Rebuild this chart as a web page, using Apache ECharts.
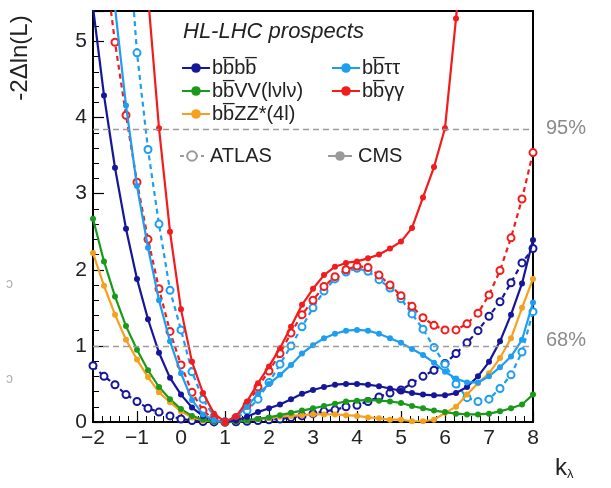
<!DOCTYPE html>
<html>
<head>
<meta charset="utf-8">
<script src="https://cdn.jsdelivr.net/npm/echarts@6/dist/echarts.min.js"></script>
<style>
html,body{margin:0;padding:0;background:#fff;}
#chart{width:611px;height:488px;}
</style>
</head>
<body>
<div id="chart"></div>
<script>
// kλ scan points
const kValues = [-2, -1.75, -1.5, -1.25, -1, -0.75, -0.5, -0.25, 0, 0.25, 0.5, 0.75, 1, 1.25, 1.5, 1.75, 2, 2.25, 2.5, 2.75, 3, 3.25, 3.5, 3.75, 4, 4.25, 4.5, 4.75, 5, 5.25, 5.5, 5.75, 6, 6.25, 6.5, 6.75, 7, 7.25, 7.5, 7.75, 8];

// CMS (solid, filled markers)
const cms_bbbb = [5.45, 4.29, 3.34, 2.54, 1.88, 1.35, 0.91, 0.58, 0.36, 0.19, 0.08, 0.02, 0, 0.02, 0.07, 0.13, 0.18, 0.23, 0.3, 0.37, 0.42, 0.46, 0.49, 0.5, 0.5, 0.49, 0.47, 0.44, 0.41, 0.38, 0.36, 0.35, 0.35, 0.38, 0.46, 0.6, 0.79, 1.06, 1.41, 1.82, 2.39];
const cms_bbtautau = [null, 7.0, 5.45, 4.16, 3.1, 2.29, 1.6, 1.06, 0.64, 0.29, 0.1, 0.02, 0, 0.07, 0.2, 0.37, 0.5, 0.62, 0.75, 0.9, 1.01, 1.1, 1.16, 1.2, 1.21, 1.2, 1.16, 1.1, 1.04, 0.96, 0.88, 0.78, 0.66, 0.57, 0.52, 0.52, 0.6, 0.72, 0.86, 1.08, 1.57];
const cms_bbVV = [2.67, 2.11, 1.65, 1.26, 0.95, 0.68, 0.46, 0.3, 0.17, 0.08, 0.03, 0.005, 0, 0.005, 0.02, 0.04, 0.06, 0.09, 0.12, 0.15, 0.18, 0.21, 0.24, 0.27, 0.28, 0.29, 0.28, 0.27, 0.25, 0.21, 0.18, 0.15, 0.13, 0.11, 0.1, 0.1, 0.11, 0.14, 0.18, 0.23, 0.36];
const cms_bbgamgam = [null, null, null, null, 7.5, 5.6, 3.86, 2.5, 1.48, 0.79, 0.38, 0.11, 0, 0.07, 0.27, 0.51, 0.73, 0.97, 1.25, 1.54, 1.75, 1.93, 2.04, 2.09, 2.11, 2.15, 2.2, 2.28, 2.37, 2.55, 2.95, 3.35, 3.86, 5.3, 7.0, null, null, null, null, null, null];
const cms_bbZZ = [2.22, 1.79, 1.41, 1.08, 0.82, 0.59, 0.39, 0.26, 0.14, 0.06, 0.02, 0.005, 0, 0.005, 0.02, 0.04, 0.05, 0.07, 0.08, 0.09, 0.1, 0.1, 0.1, 0.09, 0.08, 0.06, 0.05, 0.03, 0.03, 0.01, 0.01, 0.03, 0.12, 0.2, 0.36, 0.51, 0.64, 0.84, 1.1, 1.5, 1.88];

// ATLAS (dashed, open markers)
const atlas_bbbb = [0.74, 0.6, 0.49, 0.36, 0.27, 0.18, 0.13, 0.08, 0.04, 0.02, 0.005, 0.001, 0, 0.003, 0.01, 0.02, 0.03, 0.04, 0.06, 0.08, 0.11, 0.14, 0.16, 0.2, 0.22, 0.27, 0.33, 0.38, 0.42, 0.51, 0.6, 0.68, 0.77, 0.9, 1.04, 1.2, 1.39, 1.58, 1.83, 2.09, 2.28];
const atlas_bbtautau = [null, null, null, 6.8, 4.85, 3.58, 2.6, 1.73, 1.21, 0.66, 0.3, 0.07, 0, 0.04, 0.15, 0.3, 0.52, 0.76, 1.0, 1.25, 1.5, 1.72, 1.88, 1.97, 2.02, 1.98, 1.87, 1.76, 1.62, 1.42, 1.22, 0.98, 0.76, 0.5, 0.32, 0.27, 0.3, 0.44, 0.62, 0.92, 1.45];
const atlas_bbgamgam = [null, 6.1, 4.99, 4.03, 3.15, 2.4, 1.75, 1.19, 0.75, 0.39, 0.15, 0.03, 0, 0.06, 0.22, 0.46, 0.67, 0.9, 1.17, 1.41, 1.6, 1.78, 1.91, 2.0, 2.05, 2.03, 1.93, 1.8, 1.66, 1.52, 1.37, 1.27, 1.21, 1.21, 1.29, 1.43, 1.67, 1.99, 2.42, 2.93, 3.54];

// axis ticks and reference lines
const xTicks = [-2, -1, 0, 1, 2, 3, 4, 5, 6, 7, 8];
const yTicks = [0, 1, 2, 3, 4, 5];
const clLines = [{value: 3.84, label: '95%'}, {value: 1, label: '68%'}];

const NAVY = '#16169a', LBLUE = '#1e9ef0', GREEN = '#1a9a1a', RED = '#f21c1c', ORANGE = '#f5a01e', GREY = '#9a9a9a';
const OL = '\u0305';
const N_bbbb = 'bb' + OL + 'bb' + OL;
const N_bbtt = 'bb' + OL + 'ττ';
const N_bbVV = 'bb' + OL + 'VV(lνlν)';
const N_bbgg = 'bb' + OL + 'γγ';
const N_bbZZ = 'bb' + OL + 'ZZ*(4l)';

function pairs(arr){ return kValues.map((k,i)=> arr[i]==null ? null : [k, arr[i]]).filter(p=>p); }

function cms(name, color, arr){
  return {name, type:'line', data: pairs(arr), color, symbol:'circle', symbolSize:6,
    lineStyle:{width:2.2, color}, itemStyle:{color}, clip:true, z:3, animation:false};
}
function atlas(name, color, arr){
  return {name, type:'line', data: pairs(arr), color, symbol:'emptyCircle', symbolSize:7,
    lineStyle:{width:2.2, type:[5,4], color}, itemStyle:{color, borderWidth:1.2, borderColor:color}, clip:true, z:2, animation:false};
}

const chart = echarts.init(document.getElementById('chart'), null, {renderer:'canvas'});
const FONT = 'Liberation Sans, Arial, sans-serif';

const option = {
  animation:false,
  backgroundColor:'#fff',
  grid:{left:93, right:78, top:11, bottom:66, show:true, borderColor:'#000', borderWidth:2, backgroundColor:'transparent'},
  xAxis:{type:'value', min:-2, max:8, interval:1,
    axisLine:{onZero:false, lineStyle:{color:'#000', width:2}},
    axisTick:{inside:true, length:11, lineStyle:{color:'#000', width:1.2}},
    minorTick:{show:true, splitNumber:5, length:6, lineStyle:{color:'#000', width:1}},
    splitLine:{show:false},
    axisLabel:{fontSize:21, color:'#222', fontFamily:FONT, margin:6,
      formatter: v => xTicks.includes(v) ? String(v).replace('-', '\u2212') : ''}},
  yAxis:{type:'value', min:0, max:5.4, interval:1,
    axisLine:{onZero:false, lineStyle:{color:'#000', width:2}},
    axisTick:{inside:true, length:11, lineStyle:{color:'#000', width:1.2}},
    minorTick:{show:true, splitNumber:5, length:6, lineStyle:{color:'#000', width:1}},
    splitLine:{show:false},
    axisLabel:{fontSize:21, color:'#222', fontFamily:FONT, margin:6,
      formatter: v => yTicks.includes(v) ? String(v) : ''}},
  legend:[
    {orient:'vertical', left:176, top:53, itemGap:3, itemWidth:28, itemHeight:12,
      textStyle:{fontSize:20, color:'#222', fontFamily:FONT, padding:[0,0,0,-3]},
      data:[N_bbbb, N_bbVV, N_bbZZ]},
    {orient:'vertical', left:326, top:53, itemGap:3, itemWidth:28, itemHeight:12,
      textStyle:{fontSize:20, color:'#222', fontFamily:FONT, padding:[0,0,0,-3]},
      data:[N_bbtt, N_bbgg]},
    {orient:'horizontal', left:174, top:141, itemWidth:24, itemHeight:12,
      textStyle:{fontSize:20, color:'#222', fontFamily:FONT, padding:[0,0,0,1]}, data:['ATLAS']},
    {orient:'horizontal', left:322, top:141, itemWidth:24, itemHeight:12,
      textStyle:{fontSize:20, color:'#222', fontFamily:FONT, padding:[0,0,0,1]}, data:['CMS']}
  ],
  series:[
    {name:'ref', type:'line', data:[], silent:true,
      markLine:{silent:true, symbol:'none', label:{show:false},
        lineStyle:{color:GREY, type:[6,4], width:1.3},
        data: clLines.map(c=>({yAxis:c.value}))}},
    atlas(N_bbbb+' ATLAS', NAVY, atlas_bbbb),
    atlas(N_bbtt+' ATLAS', LBLUE, atlas_bbtautau),
    atlas(N_bbgg+' ATLAS', RED, atlas_bbgamgam),
    cms(N_bbZZ, ORANGE, cms_bbZZ),
    cms(N_bbVV, GREEN, cms_bbVV),
    cms(N_bbbb, NAVY, cms_bbbb),
    cms(N_bbtt, LBLUE, cms_bbtautau),
    cms(N_bbgg, RED, cms_bbgamgam),
    {name:'ATLAS', type:'line', data:[], color:GREY, symbol:'emptyCircle', symbolSize:7,
      lineStyle:{width:2, type:[4,3], color:GREY}, itemStyle:{color:GREY}},
    {name:'CMS', type:'line', data:[], color:GREY, symbol:'circle', symbolSize:6,
      lineStyle:{width:2, color:GREY}, itemStyle:{color:GREY}}
  ],
  graphic:[
    {type:'text', left:183, top:21, style:{text:'HL-LHC prospects', font:'italic 22px ' + FONT, fill:'#222'}},
    {type:'text', x:20, y:58, rotation:Math.PI/2, style:{text:'-2Δln(L)', font:'24px ' + FONT, fill:'#222', align:'center', verticalAlign:'middle'}},
    {type:'text', x:546, y:128, style:{text:clLines[0].label, font:'20px ' + FONT, fill:'#8a8a8a', verticalAlign:'middle'}},
    {type:'text', x:546, y:340, style:{text:clLines[1].label, font:'20px ' + FONT, fill:'#8a8a8a', verticalAlign:'middle'}},
    {type:'text', x:555, y:456, style:{rich:{k:{font:'24px ' + FONT, fill:'#222'}, s:{font:'13px ' + FONT, fill:'#222', padding:[12,0,0,0]}}, text:'{k|k}{s|λ}'}},
    {type:'text', x:6, y:277, style:{text:'ↄ', font:'14px ' + FONT, fill:'#b0b0b0'}},
    {type:'text', x:6, y:372, style:{text:'ↄ', font:'14px ' + FONT, fill:'#b0b0b0'}}
  ]
};
chart.setOption(option);
</script>
</body>
</html>
